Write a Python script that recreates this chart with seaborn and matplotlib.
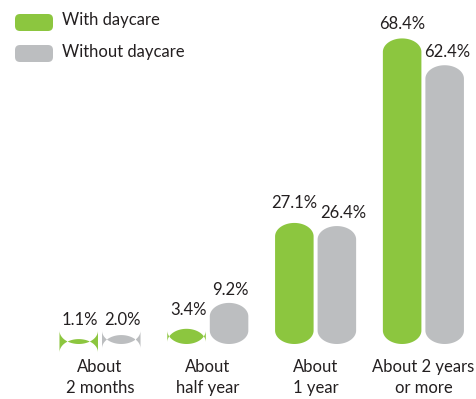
import numpy as np
import pandas as pd
import matplotlib
matplotlib.use("Agg")
import matplotlib.pyplot as plt
from matplotlib.path import Path
from matplotlib.patches import PathPatch, FancyBboxPatch
from matplotlib.transforms import IdentityTransform
import seaborn as sns

categories = ["About\n2 months", "About\nhalf year", "About\n1 year", "About 2 years\nor more"]
series_names = ["With daycare", "Without daycare"]
with_daycare = [1.1, 3.4, 27.1, 68.4]
without_daycare = [2.0, 9.2, 26.4, 62.4]
colors = ["#8cc63f", "#bcbec0"]

# label nudges in pixels (dx, gap above bar top) - styling only
label_nudge = [
    [(1.5, 14), (1.5, 14), (0, 15), (0, 9)],
    [(1.5, 10), (1, 8), (6, 8), (3, 8)],
]

df = pd.DataFrame({
    "cat": categories * 2,
    "grp": [series_names[0]] * 4 + [series_names[1]] * 4,
    "val": with_daycare + without_daycare,
})

sns.set_theme(style="white")
plt.rcParams["font.family"] = ["Lato", "DejaVu Sans"]

W, H = 476, 399
fig = plt.figure(figsize=(W / 100, H / 100), dpi=100)
base_px = 55
ax = fig.add_axes([0, base_px / H, 1, (H - base_px) / H])

sns.barplot(data=df, x="cat", y="val", hue="grp", palette=colors,
            width=0.789, gap=0.094, ax=ax, legend=False,
            order=categories, hue_order=series_names, saturation=1)

unit_px = 107.8
x0 = -100 / unit_px
ax.set_xlim(x0, x0 + W / unit_px)
ymax = 77.0
ax.set_ylim(0, ymax)
sy = (H - base_px) / ymax  # px per y unit
ry = 13.5 / sy

for cont, col in zip(ax.containers, colors):
    for rect in cont.patches:
        x = rect.get_x(); w = rect.get_width(); h = rect.get_height()
        cx = x + w / 2; rx = w / 2
        t1 = np.linspace(np.pi, 0, 60)
        top = np.column_stack([cx + rx * np.cos(t1), h - ry + ry * np.sin(t1)])
        t2 = np.linspace(0, -np.pi, 60)
        bot = np.column_stack([cx + rx * np.cos(t2), ry + ry * np.sin(t2)])
        verts = np.vstack([top, bot, top[:1]])
        codes = [Path.MOVETO] + [Path.LINETO] * (len(verts) - 2) + [Path.CLOSEPOLY]
        pp = PathPatch(Path(verts, codes), facecolor=col, edgecolor="none",
                       transform=ax.transData, clip_on=False)
        ax.add_patch(pp)
        rect.set_visible(False)

px2pt = 72 / 100
for cont, vals, nudges in zip(ax.containers, [with_daycare, without_daycare], label_nudge):
    anns = ax.bar_label(cont, labels=[f"{v:.1f}%" for v in vals], padding=5,
                        fontsize=12, color="#231f20")
    for ann, (dx, gap) in zip(anns, nudges):
        ann.set_va("baseline")
        ann.xyann = (dx * px2pt, gap * px2pt)

ax.set_xticks(range(len(categories)))
ax.set_xticklabels(categories, fontsize=12, color="#231f20", linespacing=1.35)
ax.tick_params(axis="x", length=0, pad=11)
ax.set_yticks([])
ax.set_xlabel(""); ax.set_ylabel("")
for s in ax.spines.values():
    s.set_visible(False)

# legend
for i, (name, col) in enumerate(zip(series_names, colors)):
    ytop = 14 + i * 31
    p = FancyBboxPatch((15, H - ytop - 17), 38, 17,
                       boxstyle="round,pad=0,rounding_size=5",
                       facecolor=col, edgecolor="none", transform=IdentityTransform())
    fig.patches.append(p)
    fig.text(62 / W, 1 - (ytop + 6.5) / H, name, fontsize=12, color="#231f20",
             va="center", ha="left")

fig.savefig("out.png", dpi=100)
